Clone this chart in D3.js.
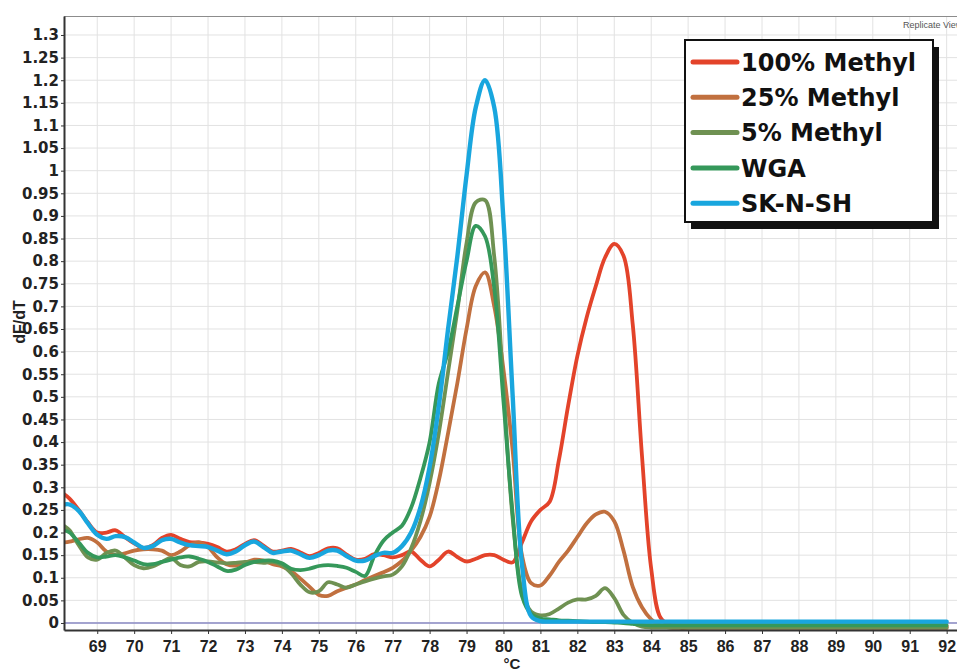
<!DOCTYPE html>
<html lang="en">
<head>
  <meta charset="UTF-8" />
  <title>Melt curve dF/dT</title>
  <style>
    body { margin: 0; background: #fff; overflow: hidden; }
    svg { position: absolute; top: 0; left: 0; }
    .grid line { stroke: #e2e2e2; stroke-width: 1px; }
    .axis path, .axis line { stroke: #333; }
    .y-axis text { font-family: "DejaVu Sans", sans-serif; font-weight: bold; font-size: 15px; fill: #222; }
    .x-axis text { font-family: "Liberation Sans", Arial, sans-serif; font-weight: bold; font-size: 16px; fill: #222; }
    .curve { fill: none; stroke-width: 3.8px; stroke-linejoin: round; stroke-linecap: round; }
    .legend text { font-family: "DejaVu Sans", sans-serif; font-weight: bold; font-size: 24px; fill: #111; }
  </style>
</head>
<body>

<svg id="chart"></svg>

<script src="https://d3js.org/d3.v7.min.js"></script>
<script>
  const width = 957;
  const height = 671;

  // temperature grid (°C) shared by all series
  const temps = [
    68.1,
    68.25, 68.5, 68.75,
    69, 69.25, 69.5, 69.75,
    70, 70.25, 70.5, 70.75,
    71, 71.25, 71.5, 71.75,
    72, 72.25, 72.5, 72.75,
    73, 73.25, 73.5, 73.75,
    74, 74.25, 74.5, 74.75,
    75, 75.25, 75.5, 75.75,
    76, 76.25, 76.5, 76.75,
    77, 77.25, 77.5, 77.75,
    78, 78.25, 78.5, 78.75,
    79, 79.25, 79.5, 79.75,
    80, 80.25, 80.5, 80.75,
    81, 81.25, 81.5, 81.75,
    82, 82.25, 82.5, 82.75,
    83, 83.25, 83.5, 83.75,
    84, 84.25, 84.5, 84.75,
    85, 92
  ];

  const methyl100 = [
    0.285,
    0.275, 0.25, 0.222,
    0.2, 0.2, 0.205, 0.19,
    0.176, 0.166, 0.172, 0.188,
    0.195, 0.186, 0.179, 0.178,
    0.175, 0.168, 0.158, 0.163,
    0.175, 0.183, 0.171, 0.158,
    0.16, 0.164, 0.156, 0.148,
    0.155, 0.165, 0.165, 0.151,
    0.14, 0.142, 0.152, 0.15,
    0.145, 0.15, 0.158, 0.14,
    0.125, 0.14, 0.158, 0.146,
    0.136, 0.142, 0.15, 0.15,
    0.14, 0.134, 0.178, 0.225,
    0.25, 0.268, 0.36, 0.48,
    0.59, 0.675, 0.745, 0.808,
    0.838, 0.812, 0.66, 0.37,
    0.12, 0.012, -0.004, -0.006,
    -0.007, -0.007
  ];

  const methyl25 = [
    0.178,
    0.18, 0.185, 0.188,
    0.178, 0.158, 0.15, 0.154,
    0.16, 0.163, 0.163, 0.16,
    0.15, 0.158, 0.172, 0.178,
    0.168, 0.145, 0.13, 0.127,
    0.133, 0.14, 0.138, 0.13,
    0.125, 0.115, 0.098, 0.08,
    0.062, 0.06, 0.07, 0.078,
    0.085, 0.095, 0.104, 0.112,
    0.122, 0.137, 0.16, 0.19,
    0.235, 0.315, 0.42, 0.53,
    0.65, 0.745, 0.775, 0.7,
    0.56, 0.38, 0.15, 0.088,
    0.083, 0.105, 0.135, 0.16,
    0.19, 0.22, 0.24, 0.246,
    0.225, 0.16, 0.08, 0.035,
    0.008, -0.006, -0.01, -0.011,
    -0.011, -0.011
  ];

  const methyl5 = [
    0.215,
    0.205, 0.172, 0.145,
    0.14, 0.155, 0.16, 0.145,
    0.128, 0.121, 0.125, 0.135,
    0.144, 0.128, 0.125, 0.135,
    0.136, 0.134, 0.132, 0.133,
    0.135, 0.135, 0.133, 0.135,
    0.128, 0.11, 0.085, 0.068,
    0.07, 0.09, 0.085, 0.078,
    0.085, 0.092, 0.098, 0.103,
    0.107, 0.125, 0.165, 0.225,
    0.31, 0.42, 0.555, 0.69,
    0.84, 0.93, 0.935, 0.81,
    0.52, 0.23, 0.07, 0.025,
    0.017, 0.02, 0.032, 0.045,
    0.052, 0.052, 0.06, 0.077,
    0.055, 0.018, 0.0, -0.008,
    -0.01, -0.01, -0.01, -0.01,
    -0.01, -0.01
  ];

  const wga = [
    0.205,
    0.2, 0.178, 0.155,
    0.145, 0.147, 0.15, 0.145,
    0.138, 0.13, 0.13, 0.135,
    0.14, 0.145, 0.147, 0.142,
    0.135, 0.125, 0.115, 0.118,
    0.128, 0.135, 0.138, 0.138,
    0.132, 0.12, 0.117, 0.12,
    0.126, 0.128, 0.126, 0.122,
    0.113, 0.104, 0.148, 0.182,
    0.2, 0.215, 0.255, 0.32,
    0.4, 0.53, 0.6, 0.7,
    0.8, 0.878, 0.855, 0.74,
    0.49, 0.24, 0.06, 0.02,
    0.01, 0.008, 0.006, 0.005,
    0.004, 0.003, 0.002, 0.002,
    0.001, 0.0, -0.002, -0.004,
    -0.005, -0.005, -0.005, -0.005,
    -0.005, -0.005
  ];

  const sknsh = [
    0.262,
    0.262, 0.248, 0.22,
    0.195, 0.186, 0.192, 0.19,
    0.178, 0.166, 0.17, 0.183,
    0.186, 0.178, 0.172, 0.17,
    0.168, 0.16, 0.152, 0.158,
    0.172, 0.18, 0.168, 0.155,
    0.158, 0.16, 0.152, 0.144,
    0.15, 0.16, 0.16, 0.148,
    0.138, 0.138, 0.148, 0.155,
    0.155, 0.17, 0.2, 0.255,
    0.345, 0.48, 0.65, 0.81,
    0.99, 1.14, 1.2, 1.14,
    0.89, 0.5, 0.13, 0.015,
    0.004, 0.003, 0.003, 0.003,
    0.003, 0.003, 0.003, 0.003,
    0.003, 0.003, 0.003, 0.003,
    0.003, 0.003, 0.003, 0.003,
    0.003, 0.003
  ];

  const seriesNames = ["100% Methyl", "25% Methyl", "5% Methyl", "WGA", "SK-N-SH"];
  const seriesValues = [methyl100, methyl25, methyl5, wga, sknsh];
  const seriesColors = ["#e3432a", "#c1703f", "#6f9152", "#35985a", "#19a6de"];

  const xTicks = [69, 70, 71, 72, 73, 74, 75, 76, 77, 78, 79, 80, 81, 82, 83, 84, 85, 86, 87, 88, 89, 90, 91, 92];
  const yTicks = [0, 0.05, 0.1, 0.15, 0.2, 0.25, 0.3, 0.35, 0.4, 0.45, 0.5, 0.55, 0.6, 0.65,
                  0.7, 0.75, 0.8, 0.85, 0.9, 0.95, 1, 1.05, 1.1, 1.15, 1.2, 1.25, 1.3];

  const plot = { left: 64, top: 16, right: 957, bottom: 630 };

  const svg = d3.select("#chart").attr("width", width).attr("height", height);

  const x = d3.scaleLinear().domain([68.1, 92.28]).range([plot.left, plot.right]);
  const y = d3.scaleLinear().domain([-0.0155, 1.342]).range([plot.bottom, plot.top]);

  // grid
  const grid = svg.append("g").attr("class", "grid");
  grid.selectAll(".v").data(xTicks).enter().append("line")
    .attr("x1", d => x(d)).attr("x2", d => x(d))
    .attr("y1", plot.top).attr("y2", plot.bottom);
  grid.selectAll(".h").data(yTicks).enter().append("line")
    .attr("x1", plot.left).attr("x2", plot.right)
    .attr("y1", d => y(d)).attr("y2", d => y(d));

  // top frame line
  svg.append("line")
    .attr("x1", plot.left).attr("x2", plot.right)
    .attr("y1", plot.top + 0.5).attr("y2", plot.top + 0.5)
    .attr("stroke", "#8c8c8c").attr("stroke-width", 1.2);

  // zero line
  svg.append("line")
    .attr("x1", plot.left).attr("x2", plot.right)
    .attr("y1", y(0)).attr("y2", y(0))
    .attr("stroke", "#8a8ac4").attr("stroke-width", 1.6);

  // curves
  svg.append("clipPath").attr("id", "clip")
    .append("rect")
    .attr("x", plot.left).attr("y", plot.top)
    .attr("width", plot.right - plot.left).attr("height", plot.bottom - plot.top);

  const line = d3.line()
    .x(d => x(d[0]))
    .y(d => y(d[1]))
    .curve(d3.curveCatmullRom.alpha(0.5));

  svg.append("g").attr("clip-path", "url(#clip)")
    .selectAll(".curve")
    .data(seriesValues)
    .enter()
    .append("path")
    .attr("class", "curve")
    .attr("stroke", (d, i) => seriesColors[i])
    .style("stroke-width", (d, i) => i === 4 ? "4.4px" : null)
    .attr("d", vals => line(temps.map((t, i) => [t, vals[i]])));

  // axes
  const yAxis = svg.append("g")
    .attr("class", "axis y-axis")
    .attr("transform", `translate(${plot.left},0)`)
    .call(d3.axisLeft(y).tickValues(yTicks).tickSize(3).tickSizeOuter(0).tickPadding(2)
      .tickFormat(d => String(+d.toFixed(2))));
  yAxis.select(".domain").attr("stroke", "#333").attr("stroke-width", 2);
  yAxis.selectAll(".tick line").attr("stroke", "#aaa");

  const xAxis = svg.append("g")
    .attr("class", "axis x-axis")
    .attr("transform", `translate(0,${plot.bottom})`)
    .call(d3.axisBottom(x).tickValues(xTicks).tickSize(4).tickSizeOuter(0).tickPadding(7)
      .tickFormat(d3.format("d")));
  xAxis.select(".domain").attr("stroke", "#333").attr("stroke-width", 2);
  xAxis.selectAll(".tick line").attr("stroke", "#aaa");

  // axis titles
  svg.append("text")
    .attr("transform", "translate(25,322) rotate(-90)")
    .attr("text-anchor", "middle")
    .style("font-family", "'Liberation Sans', Arial, sans-serif")
    .style("font-weight", "bold")
    .style("font-size", "16px")
    .style("fill", "#222")
    .text("dF/dT");

  svg.append("text")
    .attr("x", 512).attr("y", 669)
    .attr("text-anchor", "middle")
    .style("font-family", "'Liberation Sans', Arial, sans-serif")
    .style("font-weight", "bold")
    .style("font-size", "15px")
    .style("fill", "#222")
    .text("°C");

  svg.append("text")
    .attr("x", 903).attr("y", 28)
    .style("font-family", "'Liberation Sans', Arial, sans-serif")
    .style("font-size", "9px")
    .style("fill", "#555")
    .text("Replicate View");

  // legend
  const legend = svg.append("g").attr("class", "legend");
  legend.append("rect")
    .attr("x", 691).attr("y", 47).attr("width", 248).attr("height", 182)
    .attr("fill", "#111");
  legend.append("rect")
    .attr("x", 685).attr("y", 40).attr("width", 248).attr("height", 182)
    .attr("fill", "#fff").attr("stroke", "#111").attr("stroke-width", 2);

  const rows = legend.selectAll(".row")
    .data(seriesNames)
    .enter()
    .append("g")
    .attr("transform", (d, i) => `translate(0,${62 + i * 35.3})`);

  rows.append("line")
    .attr("x1", 693).attr("x2", 737)
    .attr("y1", 0).attr("y2", 0)
    .attr("stroke", (d, i) => seriesColors[i])
    .attr("stroke-width", 5)
    .attr("stroke-linecap", "round");

  rows.append("text")
    .attr("x", 741).attr("y", 0)
    .attr("dy", "0.36em")
    .text(d => d);
</script>

</body>
</html>
